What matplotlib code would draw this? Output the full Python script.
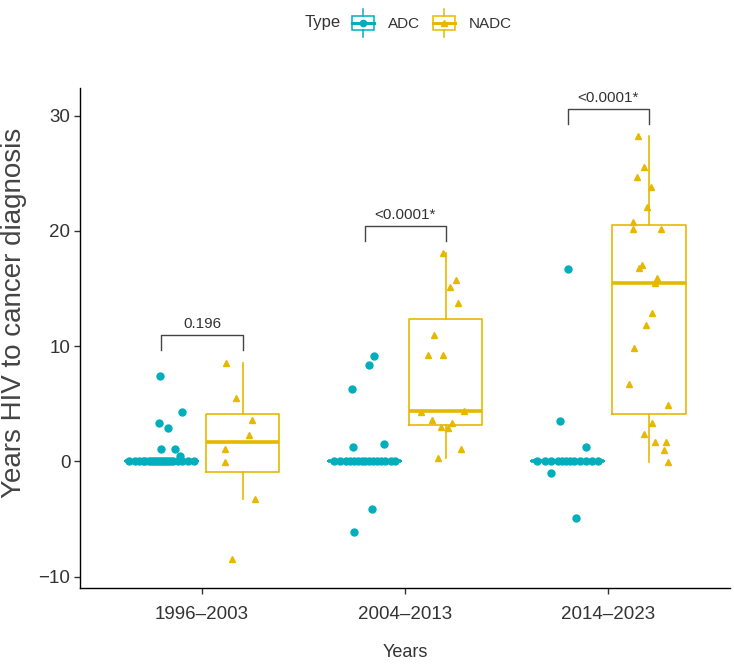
import numpy as np
import matplotlib
matplotlib.use('Agg')
import matplotlib.pyplot as plt
from matplotlib.legend_handler import HandlerBase
from matplotlib.lines import Line2D
from matplotlib.patches import Rectangle

# ---------------------------------------------------------
# Data
# ---------------------------------------------------------

periods = ['1996–2003', '2004–2013', '2014–2023']
types = ['ADC', 'NADC']
colors = ['#00AFBB', '#E7B800']
markers = ['o', '^']

# ADC values per period (many cases at 0 years)
adc_1996 = [7.4, 4.3, 3.3, 2.9, 1.1, 1.1, 0.5,
            0, 0, 0, 0, 0, 0, 0, 0, 0, 0, 0, 0, 0, 0, 0, 0, 0, 0, 0, 0, 0, 0]
adc_1996_jit = [-0.006, 0.10, -0.011, 0.033, 0.0, 0.067, 0.09,
                -0.16, -0.13, -0.11, -0.09, -0.08, -0.06, -0.05, -0.04, -0.03, -0.02, -0.01,
                0.0, 0.01, 0.02, 0.03, 0.04, 0.05, 0.06, 0.08, 0.10, 0.13, 0.16]

adc_2004 = [9.1, 8.4, 6.3, 1.2, 1.5, -4.1, -6.1,
            0, 0, 0, 0, 0, 0, 0, 0, 0, 0, 0, 0, 0, 0, 0]
adc_2004_jit = [0.045, 0.02, -0.06, -0.058, 0.095, 0.035, -0.053,
                -0.15, -0.12, -0.09, -0.07, -0.05, -0.03, -0.01, 0.0, 0.02, 0.04, 0.06,
                0.08, 0.10, 0.13, 0.15]

adc_2014 = [16.7, 3.5, 1.2, -1.0, -4.9,
            0, 0, 0, 0, 0, 0, 0, 0, 0, 0, 0, 0]
adc_2014_jit = [0.0, -0.036, 0.092, -0.08, 0.043,
                -0.15, -0.11, -0.08, -0.05, -0.03, -0.01, 0.01, 0.03, 0.06, 0.09, 0.12, 0.15]

# NADC values per period
nadc_1996 = [8.5, 5.5, 3.6, 2.3, 1.1, -0.1, -3.3, -8.5]
nadc_1996_jit = [-0.08, -0.03, 0.045, 0.03, -0.087, -0.087, 0.06, -0.05]

nadc_2004 = [18.1, 15.7, 15.1, 13.7, 11.0, 9.2, 9.2,
             4.4, 4.3, 3.6, 3.3, 2.95, 2.9, 1.1, 0.3]
nadc_2004_jit = [-0.016, 0.048, 0.019, 0.058, -0.06, -0.09, -0.016,
                 0.09, -0.12, -0.07, 0.029, -0.025, 0.009, 0.077, -0.04]

nadc_2014 = [28.2, 25.5, 24.7, 23.8, 22.1, 20.8, 20.2, 20.2, 17.0, 16.8, 15.9, 15.5,
             12.9, 11.8, 9.8, 6.7, 4.9, 3.3, 2.4, 1.7, 1.7, 1.0, -0.1]
nadc_2014_jit = [-0.053, -0.023, -0.057, 0.011, -0.008, -0.077, -0.077, 0.06, -0.033,
                 -0.048, 0.041, 0.031, 0.016, -0.013, -0.072, -0.097, 0.095, 0.016,
                 -0.023, 0.031, 0.085, 0.075, 0.095]

adc_values = [adc_1996, adc_2004, adc_2014]
adc_jitter = [adc_1996_jit, adc_2004_jit, adc_2014_jit]
nadc_values = [nadc_1996, nadc_2004, nadc_2014]
nadc_jitter = [nadc_1996_jit, nadc_2004_jit, nadc_2014_jit]

# Wilcoxon p-values and bracket heights
p_labels = ['0.196', '<0.0001*', '<0.0001*']
bracket_y = [11.0, 20.4, 30.6]

plt.rcParams['font.family'] = ['Liberation Sans', 'DejaVu Sans']

TXT = '#333333'

# ---------------------------------------------------------
# Legend key that looks like a little boxplot with a point
# ---------------------------------------------------------

class BoxKey(HandlerBase):
    def create_artists(self, legend, handle, xd, yd, w, h, fs, trans):
        c = handle.get_color()
        m = handle.get_marker()
        x0, y0 = -xd, -yd
        box = Rectangle((x0, y0 + 0.22 * h), w, 0.56 * h, fill=False,
                        edgecolor=c, lw=1.1, transform=trans)
        wl = Line2D([x0 + w / 2] * 2, [y0 - 0.1 * h, y0 + 0.22 * h], color=c, lw=1.1, transform=trans)
        wu = Line2D([x0 + w / 2] * 2, [y0 + 0.78 * h, y0 + 1.1 * h], color=c, lw=1.1, transform=trans)
        med = Line2D([x0, x0 + w], [y0 + h / 2] * 2, color=c, lw=2.2, transform=trans)
        pt = Line2D([x0 + w / 2], [y0 + h / 2], marker=m, color=c, ms=4.5,
                    ls='none', transform=trans)
        return [box, wl, wu, med, pt]

# ---------------------------------------------------------
# Plot
# ---------------------------------------------------------

fig = plt.figure(figsize=(7.34, 6.66), dpi=100)
ax = fig.add_axes([0.109, 0.117, 0.886, 0.751])

dodge = 0.2
box_w = 0.36
groups = [(adc_values, adc_jitter, -dodge), (nadc_values, nadc_jitter, dodge)]

for k, (vals, jits, off) in enumerate(groups):
    c = colors[k]
    for i in range(len(periods)):
        pos = i + 1 + off
        ax.boxplot([vals[i]], positions=[pos], widths=box_w, whis=1.5,
                   showfliers=False, showcaps=False, manage_ticks=False,
                   boxprops=dict(color=c, lw=1.2),
                   whiskerprops=dict(color=c, lw=1.2),
                   medianprops=dict(color=c, lw=2.6),
                   zorder=2)
        xs = pos + np.array(jits[i])
        ax.plot(xs, vals[i], ls='none', marker=markers[k], ms=5,
                color=c, mec=c, zorder=3)

# significance brackets
for i in range(len(periods)):
    x1 = i + 1 - dodge
    x2 = i + 1 + dodge
    yb = bracket_y[i]
    ax.plot([x1, x1, x2, x2], [yb - 1.3, yb, yb, yb - 1.3], color='#444444', lw=1.0)
    ax.text(i + 1, yb + 0.35, p_labels[i], ha='center', va='bottom',
            fontsize=11, color=TXT)

ax.set_xlim(0.4, 3.6)
ax.set_ylim(-11.0, 32.4)
ax.set_xticks([1, 2, 3])
ax.set_xticklabels(periods)
ax.set_yticks([-10, 0, 10, 20, 30])

for s in ['top', 'right']:
    ax.spines[s].set_visible(False)
for s in ['left', 'bottom']:
    ax.spines[s].set_linewidth(1.0)
    ax.spines[s].set_color('black')

ax.tick_params(axis='both', direction='out', length=4, width=1, color='#333333',
               labelcolor=TXT, labelsize=13.5, pad=3)
ax.tick_params(axis='x', pad=9)

ax.set_xlabel('Years', fontsize=13, color=TXT)
ax.xaxis.set_label_coords(0.5, -0.112)
ax.set_ylabel('Years HIV to cancer diagnosis', fontsize=20, color='#444444')
ax.yaxis.set_label_coords(-0.082, 0.55)

# legend across the top
handles = [Line2D([], [], color=colors[k], marker=markers[k]) for k in range(2)]
leg = fig.legend(handles, types, handler_map={Line2D: BoxKey()},
                 loc='center', bbox_to_anchor=(432 / 734, 1 - 23 / 666),
                 ncol=2, frameon=False, fontsize=11, handlelength=1.4,
                 handleheight=2.0, handletextpad=0.9, columnspacing=0.9,
                 borderpad=0, labelcolor=TXT)
fig.text(305 / 734, 1 - 23 / 666, 'Type', ha='left', va='center', fontsize=12, color=TXT)

plt.savefig('out.png', dpi=100)
